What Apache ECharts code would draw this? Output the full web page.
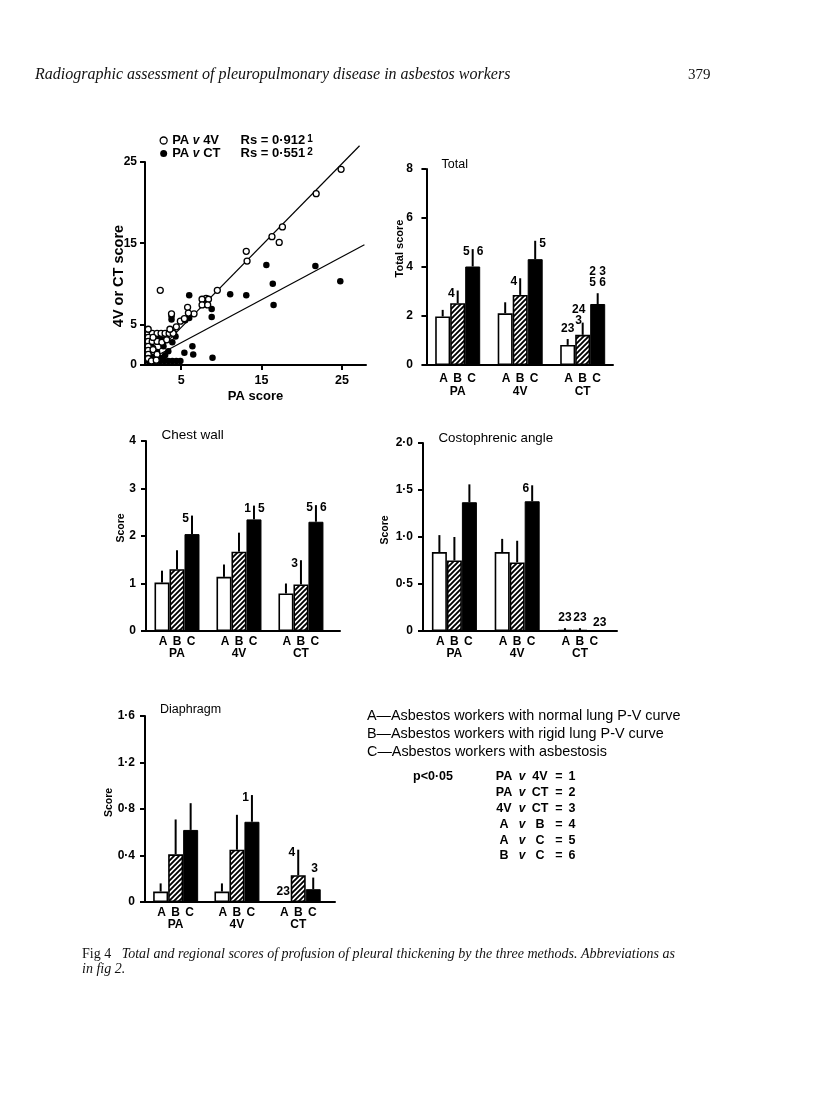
<!DOCTYPE html>
<html>
<head>
<meta charset="utf-8">
<script src="https://cdn.jsdelivr.net/npm/echarts@6.0.0/dist/echarts.min.js"></script>
<style>
html,body{margin:0;padding:0;background:#fff;}
#chart{width:816px;height:1110px;}
</style>
</head>
<body>
<div id="chart"></div>
<script>
// ================= DATA =================
const groups = ['PA', '4V', 'CT'];
const barLetters = ['A', 'B', 'C'];
const groupPos = [0.5, 1.5, 2.5];

// Scatter: PA score (x) vs 4V or CT score (y)
const scatterPA4V = [
  [24.9,24.1],[21.8,21.1],[17.6,17.0],[16.3,15.8],[17.2,15.1],[13.1,14.0],[13.2,12.8],[9.5,9.2],
  [8.1,8.2],[7.6,8.1],[8.4,8.1],[7.6,7.4],[8.3,7.4],[5.8,7.1],[6.6,6.3],[5.9,6.4],[4.9,5.4],[5.4,5.7],
  [3.8,6.3],[2.4,9.2],
  [0.9,3.9],[1.4,3.9],[2.0,3.9],[2.5,3.9],[3.0,3.9],[3.5,3.9],[4.0,3.9],
  [0.9,4.4],[0.9,3.4],[0.9,2.9],[0.9,2.3],[0.9,1.8],[0.9,1.3],[0.9,0.8],
  [1.4,2.9],[2.0,2.9],[2.6,2.8],[1.5,1.9],[2.0,1.3],[1.3,0.5],[1.9,0.6],[3.6,4.4],[4.4,4.7],[3.2,3.1],[1.5,3.4]
];
const scatterPACT = [
  [24.8,10.3],[21.7,12.2],[15.6,12.3],[16.4,10.0],[16.5,7.4],[13.1,8.6],[11.1,8.7],[6.0,8.6],
  [8.8,6.9],[8.8,5.9],[8.9,0.9],[6.4,2.3],[6.5,1.3],[5.4,1.5],[3.8,5.6],[3.8,6.0],[5.5,5.5],[6.0,5.8],
  [3.8,4.1],[4.1,3.9],[4.3,3.5],[3.9,2.8],[3.4,1.7],
  [0.9,0.5],[1.4,0.5],[1.9,0.5],[2.4,0.5],[2.9,0.5],[3.4,0.5],[3.9,0.5],[4.4,0.5],[4.9,0.5],
  [1.2,3.3],[1.7,3.1],[2.2,3.2],[2.7,3.1],[3.2,3.3],[1.0,2.4],[1.5,2.1],[2.0,1.6],[1.0,1.2],
  [1.5,1.0],[2.4,0.9],[3.0,1.2],[1.2,1.8],[2.8,2.3]
];
const fitPA4V = [[1.5, 1.1], [27.2, 27.0]];
const fitPACT = [[1.5, 0.9], [27.8, 14.8]];
const rsPA4V = '0·912', rsPACT = '0·551';
const scatterXTicks = [5, 15, 25];
const scatterYTicks = [0, 5, 15, 25];

// Total score: means and error-bar tops for groups A, B, C (per method PA, 4V, CT)
const totalA = [1.98, 2.11, 0.82];
const totalB = [2.52, 2.86, 1.23];
const totalC = [4.02, 4.32, 2.49];
const totalErrA = [2.25, 2.56, 1.06];
const totalErrB = [3.04, 3.54, 1.73];
const totalErrC = [4.73, 5.07, 2.93];
const totalTicks = [0, 2, 4, 6, 8];
const totalTickLabels = ['0', '2', '4', '6', '8'];
const totalNotes = [[0,1,'4','l'],[0,2,'5','l'],[0,2,'6','r'],[1,1,'4','l'],[1,2,'5','r'],
                    [2,0,'23','a'],[2,1,'24\n3','al'],[2,2,'2 3\n5 6','a']];

// Chest wall
const chestA = [1.02, 1.14, 0.79];
const chestB = [1.30, 1.67, 0.98];
const chestC = [2.04, 2.35, 2.30];
const chestErrA = [1.27, 1.40, 1.00];
const chestErrB = [1.70, 2.07, 1.49];
const chestErrC = [2.43, 2.64, 2.65];
const chestTicks = [0, 1, 2, 3, 4];
const chestTickLabels = ['0', '1', '2', '3', '4'];
const chestNotes = [[0,2,'5','l'],[1,2,'1','l'],[1,2,'5','r'],[2,1,'3','l'],[2,2,'5','l'],[2,2,'6','r']];

// Costophrenic angle
const costoA = [0.84, 0.84, 0.01];
const costoB = [0.75, 0.73, 0.01];
const costoC = [1.37, 1.38, 0];
const costoErrA = [1.02, 0.98, 0.03];
const costoErrB = [1.00, 0.96, 0.03];
const costoErrC = [1.56, 1.55, null];
const costoTicks = [0, 0.5, 1, 1.5, 2];
const costoTickLabels = ['0', '0·5', '1·0', '1·5', '2·0'];
const costoNotes = [[1,2,'6','l'],[2,0,'23','a'],[2,1,'23','a'],[2,2,'23','ar']];

// Diaphragm
const diaphA = [0.09, 0.09, 0];
const diaphB = [0.41, 0.45, 0.23];
const diaphC = [0.62, 0.69, 0.11];
const diaphErrA = [0.16, 0.16, null];
const diaphErrB = [0.71, 0.75, 0.45];
const diaphErrC = [0.85, 0.92, 0.21];
const diaphTicks = [0, 0.4, 0.8, 1.2, 1.6];
const diaphTickLabels = ['0', '0·4', '0·8', '1·2', '1·6'];
const diaphNotes = [[1,2,'1','l'],[2,1,'4','l'],[2,2,'3','ar'],[2,0,'23','a']];

const keyLines = ['A\u2014Asbestos workers with normal lung P-V curve',
                  'B\u2014Asbestos workers with rigid lung P-V curve',
                  'C\u2014Asbestos workers with asbestosis'];
const sigLabel = 'p<0·05';
const sigPairs = [['PA','4V','1'],['PA','CT','2'],['4V','CT','3'],['A','B','4'],['A','C','5'],['B','C','6']];

// ================= STYLE / HELPERS =================
const SANS = '"Liberation Sans", Arial, sans-serif';
const SERIF = '"Liberation Serif", "Times New Roman", serif';
const INK = '#000';
const BAR_W = 15;
const PLACE = {
  l:  {dx: -3, dy: 3,  align: 'right',  va: 'middle'},
  r:  {dx: 4,  dy: 3,  align: 'left',   va: 'middle'},
  a:  {dx: 0,  dy: -5, align: 'center', va: 'bottom'},
  al: {dx: -4, dy: 4,  align: 'center', va: 'bottom'},
  ar: {dx: -2, dy: -3, align: 'left',   va: 'bottom'}
};

function hatchPattern() {
  const s = 5;
  const c = document.createElement('canvas');
  c.width = s; c.height = s;
  const g = c.getContext('2d');
  g.fillStyle = '#fff'; g.fillRect(0, 0, s, s);
  g.strokeStyle = '#000'; g.lineWidth = 1.9;
  g.beginPath();
  g.moveTo(-1, s + 1); g.lineTo(s + 1, -1);
  g.moveTo(-s - 1, s + 1); g.lineTo(1, -1);
  g.moveTo(-1, 2 * s + 1); g.lineTo(2 * s + 1, -1);
  g.stroke();
  return c;
}
const HATCH = {image: hatchPattern(), repeat: 'repeat'};

const grids = [
  {left: 145, top: 162, width: 221, height: 203},  // scatter
  {left: 423, top: 169, width: 190, height: 196},  // total
  {left: 146, top: 441, width: 194, height: 190},  // chest wall
  {left: 423, top: 443, width: 194, height: 188},  // costophrenic
  {left: 145, top: 716, width: 190, height: 186}   // diaphragm
].map(g => Object.assign(g, {containLabel: false, outerBoundsMode: 'none'}));

const axisLineStyle = {show: true, lineStyle: {color: INK, width: 2}};
const tickLabelStyle = {color: INK, fontFamily: SANS, fontWeight: 'bold', fontSize: 12};

function barXAxis(gi, min, max, margin, lh) {
  return {
    type: 'value', gridIndex: gi, min: min, max: max,
    axisLine: axisLineStyle, axisTick: {show: false}, splitLine: {show: false},
    axisLabel: {
      customValues: groupPos, margin: margin, color: INK,
      formatter: v => {
        const i = groupPos.indexOf(v);
        return barLetters.map(l => '{l|' + l + '}').join('') + '\n{g|' + groups[i] + '}';
      },
      rich: {
        l: {width: 14, align: 'center', fontFamily: SANS, fontWeight: 'bold', fontSize: 12, lineHeight: lh, color: INK},
        g: {align: 'center', fontFamily: SANS, fontWeight: 'bold', fontSize: 12, lineHeight: lh, color: INK}
      }
    }
  };
}
function barYAxis(gi, ticks, labels, name, gap, pad, nameSize) {
  return {
    type: 'value', gridIndex: gi, min: ticks[0], max: ticks[ticks.length - 1],
    axisLine: axisLineStyle,
    axisTick: {show: true, customValues: ticks, length: 5, lineStyle: {color: INK, width: 2}},
    splitLine: {show: false},
    axisLabel: Object.assign({customValues: ticks, margin: 10,
      formatter: v => labels[ticks.indexOf(v)] !== undefined ? labels[ticks.indexOf(v)] : ''}, tickLabelStyle),
    name: name, nameLocation: 'middle', nameGap: gap, nameRotate: 90, nameMoveOverlap: false,
    nameTextStyle: {color: INK, fontFamily: SANS, fontWeight: 'bold', fontSize: nameSize, padding: pad}
  };
}

function barPanel(gi, means, errs, notes) {
  const fills = [
    {color: '#fff', borderColor: INK, borderWidth: 1.6},
    {color: HATCH, borderColor: INK, borderWidth: 1.6},
    {color: INK, borderColor: INK, borderWidth: 1}
  ];
  const out = [];
  means.forEach((m, k) => {
    out.push({
      type: 'bar', xAxisIndex: gi, yAxisIndex: gi, barWidth: BAR_W, barGap: '0%',
      data: groupPos.map((x, g) => [x, m[g]]), itemStyle: fills[k], silent: true, z: 2
    });
  });
  const errData = [];
  errs.forEach((e, k) => e.forEach((top, g) => { if (top !== null) errData.push([groupPos[g], top, k, means[k][g]]); }));
  out.push({
    type: 'custom', xAxisIndex: gi, yAxisIndex: gi, data: errData, encode: {x: 0, y: 1}, z: 3, silent: true, clip: false,
    renderItem: (params, api) => {
      const off = (api.value(2) - 1) * BAR_W;
      const p1 = api.coord([api.value(0), api.value(3)]);
      const p2 = api.coord([api.value(0), api.value(1)]);
      return {type: 'line', shape: {x1: p1[0] + off, y1: p1[1], x2: p2[0] + off, y2: p2[1]},
              style: {stroke: INK, lineWidth: 2}};
    }
  });
  const noteData = notes.map(n => {
    const top = errs[n[1]][n[0]];
    return [groupPos[n[0]], top !== null ? top : means[n[1]][n[0]], n[1]];
  });
  out.push({
    type: 'custom', xAxisIndex: gi, yAxisIndex: gi, data: noteData, encode: {x: 0, y: 1}, z: 4, silent: true, clip: false,
    renderItem: (params, api) => {
      const n = notes[params.dataIndex];
      const pl = PLACE[n[3]];
      const p = api.coord([api.value(0), api.value(1)]);
      const x = p[0] + (api.value(2) - 1) * BAR_W;
      return {type: 'text', x: x + pl.dx, y: p[1] + pl.dy,
              style: {text: n[2], fill: INK, font: 'bold 12px ' + SANS, align: pl.align,
                      verticalAlign: pl.va, lineHeight: 11}};
    }
  });
  return out;
}

// ================= OPTION =================
const option = {
  backgroundColor: '#fff',
  animation: false,
  grid: grids,
  legend: {
    left: 159.5, top: 134, padding: 0, orient: 'vertical', itemGap: 0, itemWidth: 7, itemHeight: 7,
    selectedMode: false,
    data: [
      {name: 'PA v 4V', icon: 'circle', itemStyle: {color: '#fff', borderColor: INK, borderWidth: 1.3}},
      {name: 'PA v CT', icon: 'circle', itemStyle: {color: INK, borderColor: INK, borderWidth: 0}}
    ],
    formatter: name => {
      const parts = name.split(' v ');
      const rs = name === 'PA v 4V' ? rsPA4V : rsPACT;
      const sup = name === 'PA v 4V' ? '1' : '2';
      return '{n|' + parts[0] + ' }{i|v}{b| ' + parts[1] + '}{n|Rs = ' + rs + '}{s|' + sup + '}';
    },
    textStyle: {
      color: INK, fontFamily: SANS, fontSize: 13, lineHeight: 13,
      rich: {
        n: {fontFamily: SANS, fontWeight: 'bold', fontSize: 13, lineHeight: 13, color: INK},
        i: {fontFamily: SANS, fontWeight: 'bold', fontStyle: 'italic', fontSize: 12, lineHeight: 13, color: INK},
        b: {fontFamily: SANS, fontWeight: 'bold', fontSize: 13, lineHeight: 13, width: 41, color: INK},
        s: {fontFamily: SANS, fontWeight: 'bold', fontSize: 10, lineHeight: 10, verticalAlign: 'top', padding: [0, 0, 0, 2], color: INK}
      }
    }
  },
  xAxis: [
    {
      type: 'value', gridIndex: 0, min: 0.5, max: 28,
      axisLine: axisLineStyle,
      axisTick: {show: true, customValues: scatterXTicks, length: 5, lineStyle: {color: INK, width: 2}},
      splitLine: {show: false},
      axisLabel: Object.assign({customValues: scatterXTicks, margin: 9}, tickLabelStyle, {fontSize: 12.5}),
      name: 'PA score', nameLocation: 'middle', nameGap: 25,
      nameTextStyle: {color: INK, fontFamily: SANS, fontWeight: 'bold', fontSize: 13}
    },
    barXAxis(1, -0.055, 2.985, 7, 13),
    barXAxis(2, 0, 3.13, 5, 12),
    barXAxis(3, 0, 3.09, 5, 11.5),
    barXAxis(4, 0, 3.1, 4, 12.5)
  ],
  yAxis: [
    {
      type: 'value', gridIndex: 0, min: 0, max: 25,
      axisLine: axisLineStyle,
      axisTick: {show: true, customValues: scatterYTicks, length: 5, lineStyle: {color: INK, width: 2}},
      splitLine: {show: false},
      axisLabel: Object.assign({customValues: scatterYTicks, margin: 8}, tickLabelStyle),
      name: '4V or CT score', nameLocation: 'middle', nameGap: 19, nameRotate: 90, nameMoveOverlap: false,
      nameTextStyle: {color: INK, fontFamily: SANS, fontWeight: 'bold', fontSize: 14.5, padding: [0, 25, 0, 0]}
    },
    barYAxis(1, totalTicks, totalTickLabels, 'Total score', 18, [0, 0, 0, 37], 11),
    barYAxis(2, chestTicks, chestTickLabels, 'Score', 19, [0, 0, 0, 16], 10.5),
    barYAxis(3, costoTicks, costoTickLabels, 'Score', 32, [0, 0, 0, 14], 10.5),
    barYAxis(4, diaphTicks, diaphTickLabels, 'Score', 30, [0, 0, 0, 13], 10.5)
  ],
  series: [
    {type: 'line', name: 'fit4V', xAxisIndex: 0, yAxisIndex: 0, data: fitPA4V, symbol: 'none', clip: false,
     lineStyle: {color: INK, width: 1.2}, silent: true, z: 1},
    {type: 'line', name: 'fitCT', xAxisIndex: 0, yAxisIndex: 0, data: fitPACT, symbol: 'none', clip: false,
     lineStyle: {color: INK, width: 1.2}, silent: true, z: 1},
    {type: 'scatter', name: 'PA v CT', xAxisIndex: 0, yAxisIndex: 0, data: scatterPACT, symbolSize: 6.5,
     itemStyle: {color: INK, opacity: 1}, silent: true, z: 2},
    {type: 'scatter', name: 'PA v 4V', xAxisIndex: 0, yAxisIndex: 0, data: scatterPA4V, symbolSize: 6,
     itemStyle: {color: '#fff', borderColor: INK, borderWidth: 1.3, opacity: 1}, silent: true, z: 3}
  ]
    .concat(barPanel(1, [totalA, totalB, totalC], [totalErrA, totalErrB, totalErrC], totalNotes))
    .concat(barPanel(2, [chestA, chestB, chestC], [chestErrA, chestErrB, chestErrC], chestNotes))
    .concat(barPanel(3, [costoA, costoB, costoC], [costoErrA, costoErrB, costoErrC], costoNotes))
    .concat(barPanel(4, [diaphA, diaphB, diaphC], [diaphErrA, diaphErrB, diaphErrC], diaphNotes)),
  graphic: [
    {type: 'text', x: 35, y: 75, style: {text: 'Radiographic assessment of pleuropulmonary disease in asbestos workers',
      font: 'italic 16px ' + SERIF, fill: '#111', verticalAlign: 'middle'}},
    {type: 'text', x: 688, y: 75, style: {text: '379', font: '15px ' + SERIF, fill: '#111', verticalAlign: 'middle'}},
    {type: 'text', x: 441.5, y: 165, style: {text: 'Total', font: '12.5px ' + SANS, fill: INK, verticalAlign: 'middle'}},
    {type: 'text', x: 161.5, y: 435, style: {text: 'Chest wall', font: '13.5px ' + SANS, fill: INK, verticalAlign: 'middle'}},
    {type: 'text', x: 438.5, y: 438.5, style: {text: 'Costophrenic angle', font: '13.3px ' + SANS, fill: INK, verticalAlign: 'middle'}},
    {type: 'text', x: 160, y: 710, style: {text: 'Diaphragm', font: '12.5px ' + SANS, fill: INK, verticalAlign: 'middle'}}
  ]
    .concat(keyLines.map((t, i) => ({type: 'text', x: 367, y: 716 + i * 18,
      style: {text: t, font: '14.4px ' + SANS, fill: INK, verticalAlign: 'middle'}})))
    .concat([{type: 'text', x: 413, y: 777, style: {text: sigLabel, font: 'bold 12.5px ' + SANS, fill: INK, verticalAlign: 'middle'}}])
    .concat(sigPairs.map((p, i) => ({type: 'text', x: 492, y: 777 + i * 15.8,
      style: {
        text: '{c|' + p[0] + '}{v|v}{c|' + p[1] + '}{e|=}{n|' + p[2] + '}',
        verticalAlign: 'middle',
        rich: {
          c: {width: 24, align: 'center', font: 'bold 12.5px ' + SANS, fill: INK},
          v: {width: 12, align: 'center', font: 'italic bold 12px ' + SANS, fill: INK},
          e: {width: 14, align: 'center', font: 'bold 12.5px ' + SANS, fill: INK},
          n: {width: 12, align: 'center', font: 'bold 12.5px ' + SANS, fill: INK}
        }
      }})))
    .concat([
      {type: 'text', x: 82, y: 954, style: {
        text: '{r|Fig 4}{i|   Total and regional scores of profusion of pleural thickening by the three methods. Abbreviations as}',
        verticalAlign: 'middle',
        rich: {r: {font: '14px ' + SERIF, fill: '#111'}, i: {font: 'italic 14px ' + SERIF, fill: '#111'}}}},
      {type: 'text', x: 82, y: 969, style: {text: 'in fig 2.', font: 'italic 14px ' + SERIF, fill: '#111', verticalAlign: 'middle'}}
    ])
};

const chart = echarts.init(document.getElementById('chart'), null, {renderer: 'canvas', width: 816, height: 1110});
chart.setOption(option);
</script>
</body>
</html>
